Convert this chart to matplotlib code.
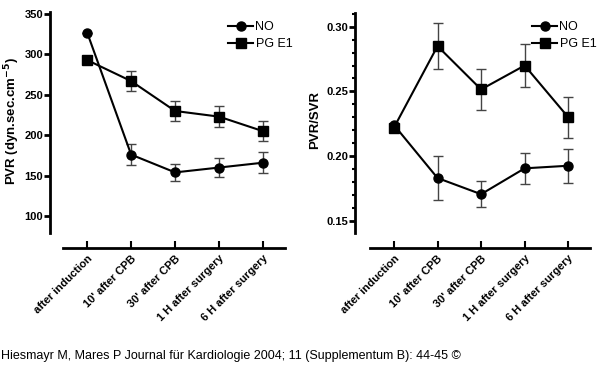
import matplotlib.pyplot as plt
from matplotlib.ticker import MultipleLocator

plt.rcParams['font.family'] = ['Liberation Sans', 'DejaVu Sans']

times = ["after induction", "10' after CPB", "30' after CPB",
         "1 H after surgery", "6 H after surgery"]
x = list(range(len(times)))

# PVR (dyn.sec.cm-5)
pvr_no = [327, 176, 154, 160, 166]
pvr_no_err = [0, 13, 11, 12, 13]
pvr_pg = [293, 267, 230, 223, 205]
pvr_pg_err = [0, 12.5, 12, 13, 12]

# PVR/SVR
ratio_no = [0.224, 0.183, 0.1705, 0.1905, 0.1925]
ratio_no_err = [0, 0.017, 0.010, 0.012, 0.013]
ratio_pg = [0.222, 0.285, 0.2515, 0.270, 0.230]
ratio_pg_err = [0, 0.018, 0.016, 0.017, 0.016]

W, H = 600, 390
fig = plt.figure(figsize=(6, 3.9), dpi=100)


def make_axes(x0, x1, ytop, ybot):
    return fig.add_axes([x0 / W, 1 - ybot / H, (x1 - x0) / W, (ybot - ytop) / H])


def style(ax, yoff, xoff):
    for s in ["top", "right"]:
        ax.spines[s].set_visible(False)
    ax.spines["left"].set_linewidth(2)
    ax.spines["bottom"].set_linewidth(2)
    ax.spines["left"].set_position(("outward", yoff * 0.72))
    ax.spines["bottom"].set_position(("outward", xoff * 0.72))
    ax.tick_params(axis="y", which="major", direction="out", length=4, width=2,
                   pad=1, labelsize=8)
    ax.tick_params(axis="y", which="minor", direction="out", length=2.5, width=1.5)
    ax.tick_params(axis="x", direction="in", length=5, width=1.5, pad=4,
                   labelsize=8)
    ax.set_xticks(x)
    ax.set_xticklabels(times, rotation=45, ha="right", rotation_mode="anchor",
                       fontweight="bold")
    for lab in ax.get_yticklabels():
        lab.set_fontweight("bold")
    ax.set_xlim(-0.55, 4.5)


def draw(ax, no, no_err, pg, pg_err):
    for vals, errs, mk, lab in [(no, no_err, "o", "NO"), (pg, pg_err, "s", "PG E1")]:
        ax.errorbar(x, vals, yerr=errs, fmt="none", ecolor="#444444",
                    elinewidth=1, capsize=3.5, capthick=1)
        ax.plot(x, vals, color="black", lw=1.5, marker=mk, markersize=6.5,
                label=lab)


def legend(ax, x0):
    ax.legend(loc="upper left", bbox_to_anchor=(x0 / W, 1 - 21 / H),
              bbox_transform=fig.transFigure, frameon=False, fontsize=9,
              borderpad=0, borderaxespad=0, handlelength=2.0, handletextpad=0.2,
              labelspacing=0.42)


def ylabel(ax, text, xc, yc):
    ax.set_ylabel(text, fontsize=9.5, fontweight="bold")
    ax.yaxis.label.set_va("center")
    ax.yaxis.label.set_ha("center")
    ax.yaxis.set_label_coords(xc / W, 1 - yc / H, transform=fig.transFigure)


ax1 = make_axes(63, 285, 12, 233)
draw(ax1, pvr_no, pvr_no_err, pvr_pg, pvr_pg_err)
ax1.set_ylim(79, 352.5)
ax1.set_yticks([100, 150, 200, 250, 300, 350])
style(ax1, 13, 15)
ylabel(ax1, "PVR (dyn.sec.cm$^{\\mathbf{-5}}$)", 12, 121)
legend(ax1, 228)

ax2 = make_axes(370, 590, 13, 233)
draw(ax2, ratio_no, ratio_no_err, ratio_pg, ratio_pg_err)
ax2.set_ylim(0.1405, 0.3106)
ax2.set_yticks([0.15, 0.20, 0.25, 0.30])
ax2.set_yticklabels(["0.15", "0.20", "0.25", "0.30"])
ax2.yaxis.set_minor_locator(MultipleLocator(0.01))
style(ax2, 15, 15)
ylabel(ax2, "PVR/SVR", 315, 120)
legend(ax2, 532)

fig.text(1 / W, 1 - 356 / H,
         "Hiesmayr M, Mares P Journal für Kardiologie 2004; 11 (Supplementum B): 44-45 ©",
         fontsize=9, va="center", ha="left")

fig.savefig("out.png", dpi=100)
